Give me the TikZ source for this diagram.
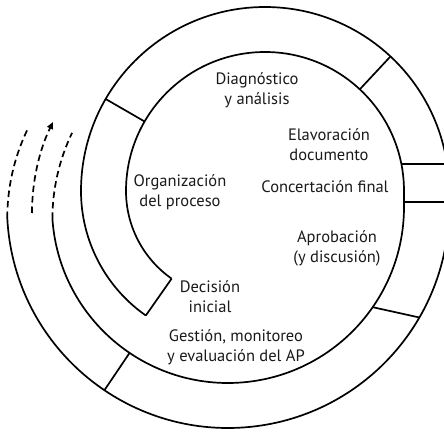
\documentclass[tikz,border=0pt]{standalone}
\usepackage{fontspec}
\setmainfont{PT Sans}
\usetikzlibrary{calc,arrows.meta}
\begin{document}
\begin{tikzpicture}[x=1pt,y=1pt,
  band/.style={line width=1.7pt, black},
  cue/.style={line width=1.7pt, black, dash pattern=on 6.5pt off 4pt},
  lbl/.style={align=center, font=\fontsize{16.5}{20}\selectfont, text=black!90, inner sep=0pt}]
\useasboundingbox (0,0) rectangle (444,431);
\clip (0,0) rectangle (444,431);
% centres of the lower and upper half turns
\coordinate (P) at (228,224);
\coordinate (Q) at (265,240);

% outer strand of the spiral band
\draw[band] ($(P)+(182.85:221pt)$) coordinate (a0)
  arc[start angle=182.85, end angle=360, radius=221pt] -- ++(0,16)
  arc[start angle=0, end angle=180, radius=184pt]
  arc[start angle=180, end angle=235, radius=152pt] coordinate (a1);
% inner strand of the spiral band
\draw[band] ($(P)+(183.9:176pt)$) coordinate (b0)
  arc[start angle=183.9, end angle=360, radius=176pt] -- ++(0,16)
  arc[start angle=0, end angle=180, radius=139pt]
  arc[start angle=180, end angle=235, radius=107pt] coordinate (b1);
% closed end of the band
\draw[band] (a1) -- (b1);

% dividers between the stages
\coordinate (s1a) at ($(Q)+(150:184pt)$);  \coordinate (s1b) at ($(Q)+(150:139pt)$);
\coordinate (s2a) at ($(Q)+(47:184pt)$);   \coordinate (s2b) at ($(Q)+(47:139pt)$);
\coordinate (s3a) at ($(Q)+(8.44:184pt)$); \coordinate (s3b) at ($(Q)+(11.2:139pt)$);
\coordinate (s4a) at (449,229);            \coordinate (s4b) at (404,229);
\coordinate (s5a) at ($(P)+(-30:221pt)$);  \coordinate (s5b) at ($(P)+(-34.7:176pt)$);
\coordinate (s6a) at ($(P)+(236:221pt)$);  \coordinate (s6b) at ($(P)+(236:176pt)$);
\foreach \s in {1,...,6} \draw[band] (s\s a) -- (s\s b);

% dashed continuation of the cycle
\draw[cue] (a0) arc[start angle=180, end angle=154.5, radius=204pt];
\draw[cue] (b0) arc[start angle=180, end angle=154.3, radius=198.5pt];
\coordinate (m0) at (32,218);
\draw[cue, -{Triangle[length=7pt,width=6pt]}] (m0)
  arc[start angle=180, end angle=154, radius=207.7pt];

% stage labels
\node[lbl] (diag) at (257,341) {Diagnóstico\\y análisis};
\node[lbl] (elab) at (329,286) {Elavoración\\documento};
\node[lbl] (conc) at (325,244) {Concertación final};
\node[lbl] (org)  at (180,239) {Organización\\del proceso};
\node[lbl] (apro) at (337,183) {Aprobación\\(y discusión)};
\node[lbl] (deci) at (210,134) {Decisión\\inicial};
\node[lbl] (gest) at (236,84)  {Gestión, monitoreo\\y evaluación del AP};
\end{tikzpicture}
\end{document}
